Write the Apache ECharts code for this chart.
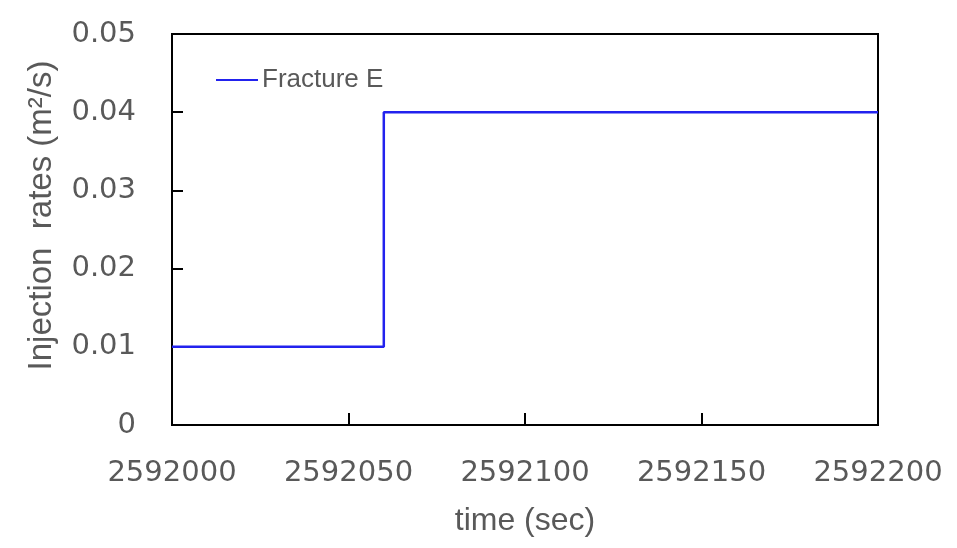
<!DOCTYPE html>
<html>
<head>
<meta charset="utf-8">
<script src="https://cdn.jsdelivr.net/npm/echarts@6/dist/echarts.min.js"></script>
<style>
  html, body { margin: 0; padding: 0; background: #fff; }
  #chart { width: 957px; height: 548px; }
</style>
</head>
<body>
<div id="chart"></div>
<script>
// step points: rate holds until the next time
const times = [2592000, 2592060, 2592200]
const rates = [0.01, 0.04, 0.04]
const seriesName = 'Fracture E'

const tickFont = 'DejaVu Sans'
const nameFont = 'Liberation Sans'
const grey = '#595959'

const chart = echarts.init(document.getElementById('chart'))

chart.setOption({
  animation: false,
  grid: {
    left: 172,
    top: 34,
    right: 79,
    bottom: 123,
    show: true,
    borderColor: '#000',
    borderWidth: 2
  },
  legend: {
    left: 211,
    top: 62,
    icon: 'rect',
    itemWidth: 42,
    itemHeight: 2,
    itemGap: 4,
    data: [seriesName],
    textStyle: { color: grey, fontFamily: nameFont, fontSize: 26, padding: [0, 0, 0, -1] }
  },
  xAxis: {
    type: 'value',
    min: 2592000,
    max: 2592200,
    interval: 50,
    name: 'time (sec)',
    nameLocation: 'middle',
    nameGap: 80,
    nameTextStyle: { color: grey, fontFamily: nameFont, fontSize: 32 },
    axisLine: { show: true, lineStyle: { color: '#000', width: 2 } },
    axisTick: { show: true, inside: true, length: 12, lineStyle: { color: '#000', width: 2 } },
    splitLine: { show: false },
    axisLabel: {
      color: grey,
      fontFamily: tickFont,
      fontSize: 29,
      margin: 34,
      formatter: (v) => String(v)
    }
  },
  yAxis: {
    type: 'value',
    min: 0,
    max: 0.05,
    interval: 0.01,
    name: 'Injection  rates (m²/s)',
    nameLocation: 'middle',
    nameGap: 114,
    nameTextStyle: { color: grey, fontFamily: nameFont, fontSize: 33, padding: [0, 0, 0, 28] },
    axisLine: { show: true, lineStyle: { color: '#000', width: 2 } },
    axisTick: { show: true, inside: true, length: 11, lineStyle: { color: '#000', width: 2 } },
    splitLine: { show: false },
    axisLabel: {
      color: grey,
      fontFamily: tickFont,
      fontSize: 29,
      margin: 36,
      formatter: (v) => (v === 0 ? '0' : v.toFixed(2))
    }
  },
  series: [
    {
      name: seriesName,
      type: 'line',
      step: 'end',
      symbol: 'none',
      data: times.map((t, i) => [t, rates[i]]),
      lineStyle: { color: '#2222ee', width: 2.5 },
      itemStyle: { color: '#2222ee' }
    }
  ]
})
</script>
</body>
</html>
